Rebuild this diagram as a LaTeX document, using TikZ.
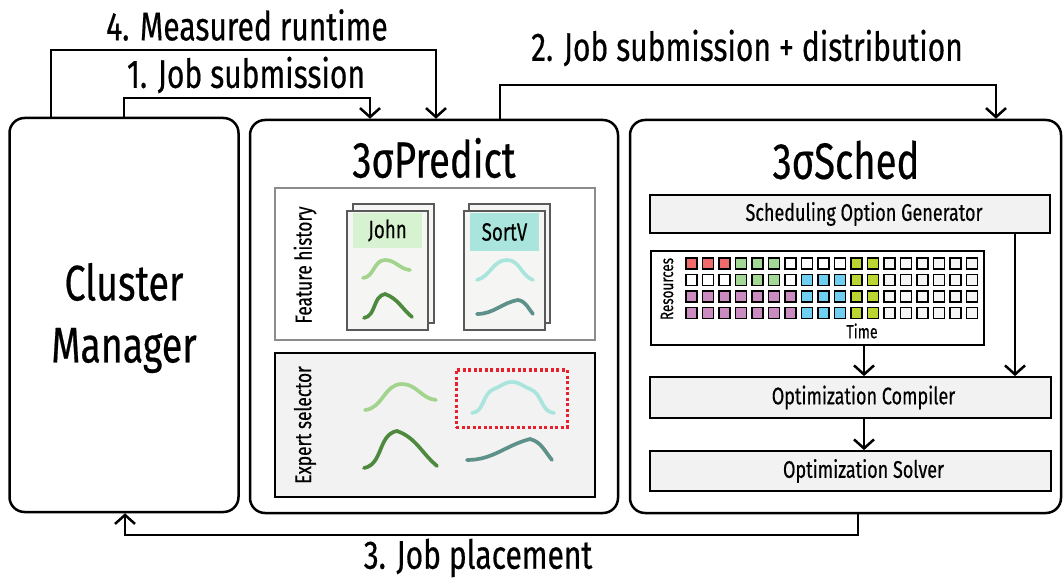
\documentclass[tikz,border=0pt]{standalone}
\usepackage{fontspec}
\setmainfont{Fira Sans}[FakeStretch=0.75, FakeBold=0.4]
\usetikzlibrary{positioning,arrows.meta,calc}
\definecolor{sgRed}{HTML}{F06B6B}
\definecolor{sgGreen}{HTML}{A2D796}
\definecolor{sgBlue}{HTML}{6ECFF0}
\definecolor{sgLime}{HTML}{BCD530}
\definecolor{sgPurple}{HTML}{C98BC0}
\definecolor{sgEmpty}{HTML}{F5F5F5}
\definecolor{sgPanel}{HTML}{F2F2F2}
\definecolor{sgCard}{HTML}{F5F6F4}
\definecolor{sgHeadG}{HTML}{D7F2D0}
\definecolor{sgHeadC}{HTML}{A9E5DD}
\definecolor{sgLightG}{HTML}{A3D48E}
\definecolor{sgDarkG}{HTML}{4E8A3D}
\definecolor{sgLightC}{HTML}{A9E5DD}
\definecolor{sgTeal}{HTML}{5F918B}
\definecolor{sgDot}{HTML}{E8202E}
\tikzset{
    base/.style={align=center, inner sep=0pt},
    panel/.style={base, rectangle, rounded corners=15pt, draw=black, line width=2.5pt, fill=white},
    block/.style={base, rectangle, draw=black, line width=1.8pt, fill=sgPanel},
    blocktext/.style={base, font=\fontsize{24}{26}\selectfont},
    group/.style={base, rectangle, line width=2pt},
    card/.style={base, rectangle, draw=black!65, line width=2pt, fill=sgCard, minimum width=81pt, minimum height=119pt},
    header/.style={base, rectangle, minimum width=69pt, font=\fontsize{25}{27}\selectfont},
    cell/.style={base, rectangle, draw=black, line width=1.6pt, minimum size=11pt},
    curve/.style={line width=3.7pt, line cap=round},
    flow/.style={-{Straight Barb[length=9pt, width=20pt]}, line width=2.5pt, color=black},
    big/.style={base, font=\fontsize{40}{46}\selectfont},
    title/.style={base, font=\fontsize{51}{55}\selectfont},
    side/.style={base, rotate=90, font=\fontsize{23}{25}\selectfont}
}
\begin{document}
\begin{tikzpicture}[x=1pt, y=1pt]
  \useasboundingbox (0,0) rectangle (1063,579);

  \node[panel, minimum width=229pt, minimum height=394pt] (cm) at (124,264) {};
  \node[base, font=\fontsize{50}{62}\selectfont] (cmtext) at (124,261) {Cluster\\Manager};
  \node[panel, minimum width=368pt, minimum height=393pt] (pred) at (434,262.5) {};
  \node[panel, minimum width=431pt, minimum height=393pt] (sched) at (845.5,262.5) {};
  \node[title] (predtitle) at (434,421) {3σPredict};
  \node[title] (schedtitle) at (846,419) {3σSched};

  \node[group, draw=black!45, fill=white, minimum width=320pt, minimum height=152pt] (hist) at (435,315) {};
  \node[side] (histlabel) at (305,314) {Feature history};
  \node[card] (johnback) at (393,315) {};
  \node[card] (john) at (387.5,308.5) {};
  \node[header, fill=sgHeadG, minimum height=35pt] (johnhead) at (387.5,348.5) {John};
  \node[card] (sortback) at (509.5,315.5) {};
  \node[card] (sort) at (504.5,308.5) {};
  \node[header, fill=sgHeadC, minimum height=38pt] (sorthead) at (504.5,347) {SortV};
  \draw[curve, sgLightG] (363,301) to[out=5,in=180] (385,319) to[out=0,in=175] (410,309);
  \draw[curve, sgDarkG] (364,261) to[out=10,in=190] (385,285) to[out=-20,in=140] (412,262);
  \draw[curve, sgLightC] (477,299) to[out=15,in=180] (507,319) to[out=0,in=160] (533,299);
  \draw[curve, sgTeal] (477,265) to[out=0,in=190] (518,279) to[out=-10,in=130] (533,265);

  \node[group, draw=black, fill=sgPanel, minimum width=320pt, minimum height=144pt] (expert) at (435,154) {};
  \node[side] (explabel) at (305,154) {Expert selector};
  \draw[curve, sgLightG] (365,169) to[out=5,in=180] (402,195) to[out=0,in=175] (436,179);
  \draw[curve, sgDarkG] (364,111) to[out=10,in=190] (397,148) to[out=-20,in=140] (437,113);
  \node[base, draw=sgDot, line width=3pt, dash pattern=on 3pt off 2.5pt, minimum width=111pt, minimum height=57pt] (pick) at (511.5,180.5) {};
  \draw[curve, sgLightC] (472,166) to[out=5,in=200] (494,190) to[out=20,in=180] (512,197) to[out=0,in=160] (530,190) to[out=-20,in=175] (554,166);
  \draw[curve, sgTeal] (467,119) to[out=0,in=195] (530,140) to[out=-15,in=130] (552,119);

  \node[block, minimum width=400pt, minimum height=38pt] (gen) at (850,365) {};
  \node[blocktext] (gentext) at ([xshift=14pt]gen.center) {Scheduling Option Generator};
  \node[base, draw=black, line width=1.8pt, fill=white, minimum width=333pt, minimum height=94pt] (grid) at (817.5,281) {};
  \foreach \row [count=\j from 0] in {
      {sgRed,sgRed,sgRed,sgGreen,sgGreen,sgGreen,white,white,white,white,sgLime,sgLime,sgEmpty,sgEmpty,sgEmpty,sgEmpty,sgEmpty,sgEmpty},
      {white,white,white,sgGreen,sgGreen,sgGreen,white,sgBlue,sgBlue,sgBlue,sgLime,sgLime,sgEmpty,sgEmpty,sgEmpty,sgEmpty,sgEmpty,sgEmpty},
      {sgPurple,sgPurple,sgPurple,sgPurple,sgPurple,sgPurple,sgPurple,sgBlue,sgBlue,sgBlue,sgLime,sgLime,sgEmpty,sgEmpty,sgEmpty,sgEmpty,sgEmpty,sgEmpty},
      {sgPurple,sgPurple,sgPurple,sgPurple,sgPurple,sgPurple,sgPurple,sgBlue,sgBlue,sgBlue,sgLime,sgLime,sgEmpty,sgEmpty,sgEmpty,sgEmpty,sgEmpty,sgEmpty}}
    \foreach \c [count=\i from 0] in \row
      \node[cell, fill=\c] (c-\j-\i) at (691.5+16.5*\i,315.5-16.5*\j) {};
  \node[side, font=\fontsize{18}{20}\selectfont] (res) at (667,290) {Resources};
  \node[base, font=\fontsize{19}{21}\selectfont] (time) at (862,248) {Time};
  \node[block, minimum width=401pt, minimum height=41pt] (comp) at (850.5,181.5) {};
  \node[blocktext] (comptext) at ([xshift=13pt]comp.center) {Optimization Compiler};
  \node[block, minimum width=401pt, minimum height=40pt] (solv) at (850.5,108) {};
  \node[blocktext] (solvtext) at ([xshift=13pt]solv.center) {Optimization Solver};

  \draw[flow] ([xshift=46.5pt]grid.south) -- ([xshift=13.5pt]comp.north);
  \draw[flow] ([xshift=165pt]gen.south) -- ([xshift=164.5pt]comp.north);
  \draw[flow] ([xshift=13.5pt]comp.south) -- ([xshift=13.5pt]solv.north);

  \coordinate (m1) at (51,529);
  \coordinate (m2) at (436,529);
  \draw[flow] (cm.north -| m1) -- (m1) -- (m2) -- (pred.north -| m2);
  \node[big] (measured) at (247,554) {4. Measured runtime};
  \coordinate (s1) at (124,481);
  \coordinate (s2) at (370,481);
  \draw[flow] (cm.north -| s1) -- (s1) -- (s2) -- (pred.north -| s2);
  \node[big] (submit) at (246,504) {1. Job submission};
  \coordinate (d1) at (500,494);
  \coordinate (d2) at (996,494);
  \draw[flow] (pred.north -| d1) -- (d1) -- (d2) -- (sched.north -| d2);
  \node[big] (distrib) at (747,531) {2. Job submission + distribution};
  \coordinate (p1) at (858,44);
  \coordinate (p2) at (125,44);
  \draw[flow] (sched.south -| p1) -- (p1) -- (p2) -- (cm.south -| p2);
  \node[big] (place) at (478,21) {3. Job placement};
\end{tikzpicture}
\end{document}
